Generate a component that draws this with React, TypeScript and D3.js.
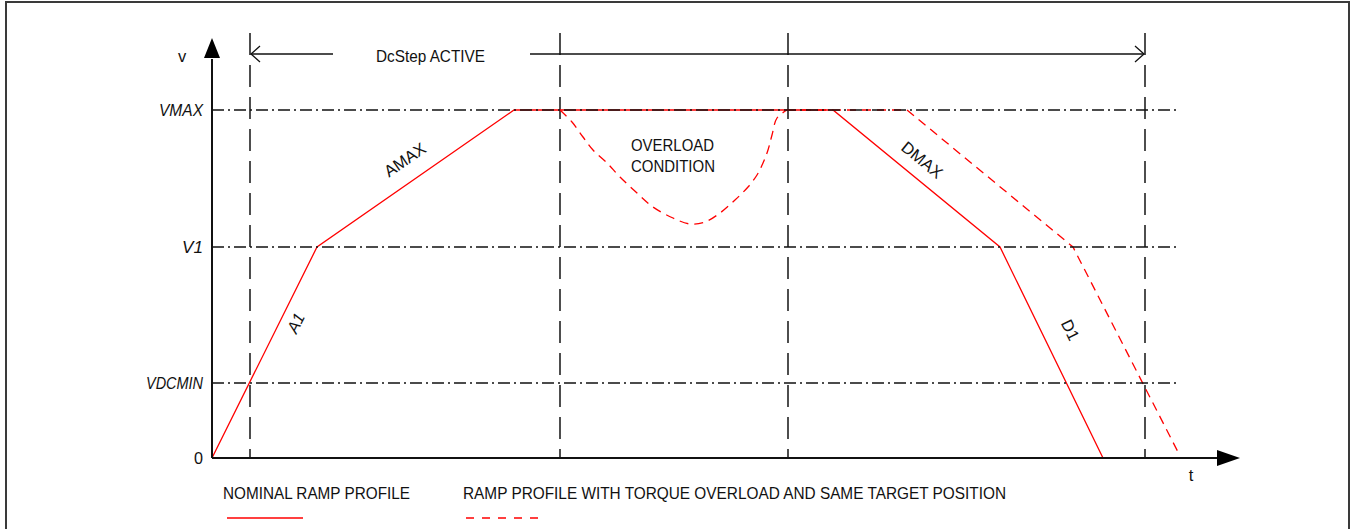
import React from 'react'
import * as d3 from 'd3'

// velocity levels (chart units)
const levelNames = ['VMAX', 'V1', 'VDCMIN', '0']
const levelValues = [87, 52.75, 18.75, 0]
const levelWidths = [44, 21, 57, 9]

// nominal ramp profile
const nominalT = [0, 10.5, 30.2, 62.1, 78.8, 89.1]
const nominalV = [0, 52.75, 87, 87, 52.75, 0]

// ramp with torque overload, same target position
const overloadT = [34.8, 36.0, 37.1, 38.1, 39.5, 40.8, 42.5, 44.1, 46.1, 47.8, 49.3, 50.8, 52.3, 53.6, 54.5, 55.1, 55.6, 56.0, 56.5, 57.5]
const overloadV = [87, 84, 80.25, 77, 73.75, 70.25, 66.25, 62.75, 60, 58.5, 59, 61.25, 64.5, 67.75, 70.75, 73.75, 77, 80.75, 85, 87]
const tailT = [57.5, 69.5, 86.1, 96.6]
const tailV = [87, 87, 52.75, 1.5]

// vertical marker times
const markerT = [3.8, 34.8, 57.6, 93.3]

// segment labels
const segLabels = ['A1', 'AMAX', 'DMAX', 'D1']
const segT = [8.4, 19.3, 71.0, 85.8]
const segV = [33.75, 74.5, 74.5, 32]
const segAngle = [-63.5, -34.8, 39.4, 64]

const W = 1351
const H = 529
const x = d3.scaleLinear().domain([0, 100]).range([212, 1212])
const y = d3.scaleLinear().domain([0, 100]).range([458, 58])
const font = '"Liberation Sans", Arial, sans-serif'
const fs = 16.5

export default function App() {
  const nomLine = d3.line<number>().x((t) => x(t)).y((_, i) => y(nominalV[i]))
  const ovLine = d3.line<number>().x((t) => x(t)).y((_, i) => y(overloadV[i])).curve(d3.curveCatmullRom)
  const tailLine = d3.line<number>().x((t) => x(t)).y((_, i) => y(tailV[i]))
  const gridEnd = x(96.8)
  const axTip = x(102.8)
  const ayTip = y(105)
  const arrowY = 54

  return (
    <svg width={W} height={H} style={{ position: 'absolute', left: 0, top: 0 }} fontFamily={font}>
      <rect x={0} y={0} width={W} height={H} fill="#fff" />
      <path d={`M6,${H + 5} V2 H1349 V${H + 5}`} fill="none" stroke="#3a3a3a" strokeWidth={2} />

      {/* vertical dashed markers */}
      {markerT.map((t, i) => (
        <line key={i} x1={x(t)} x2={x(t)} y1={33} y2={y(0)} stroke="#222" strokeWidth={1.6} strokeDasharray="22,10" />
      ))}

      {/* profiles */}
      <path d={nomLine(nominalT) || ''} fill="none" stroke="#ff0000" strokeWidth={1.3} />
      <path d={ovLine(overloadT) || ''} fill="none" stroke="#ff0000" strokeWidth={1.3} strokeDasharray="9,6" />
      <path d={tailLine(tailT) || ''} fill="none" stroke="#ff0000" strokeWidth={1.3} strokeDasharray="9,6" />

      {/* level dash-dot lines and labels */}
      {levelValues.map((v, i) => (
        <g key={i}>
          {v > 0 && (
            <line x1={x(0)} x2={gridEnd} y1={y(v)} y2={y(v)} stroke="#111" strokeWidth={1.4} strokeDasharray="12,4,2,4" />
          )}
          <text x={203} y={y(v) + 6} textAnchor="end" fontSize={fs} textLength={levelWidths[i]} lengthAdjust="spacingAndGlyphs" fontStyle={v > 0 ? 'italic' : 'normal'} fill="#111">
            {levelNames[i]}
          </text>
        </g>
      ))}

      {/* axes */}
      <line x1={x(0)} x2={x(0)} y1={y(0)} y2={y(100) + 1} stroke="#111" strokeWidth={2} />
      <path d={`M${x(0) - 8},${y(100)} L${x(0)},${ayTip} L${x(0) + 8},${y(100)} Z`} fill="#000" />
      <line x1={x(0)} x2={axTip - 22} y1={y(0)} y2={y(0)} stroke="#111" strokeWidth={2} />
      <path d={`M${axTip - 23},${y(0) - 8} L${axTip},${y(0)} L${axTip - 23},${y(0) + 8} Z`} fill="#000" />
      <text x={182} y={62} textAnchor="middle" fontSize={fs} fill="#111">v</text>
      <text x={1191} y={481} textAnchor="middle" fontSize={fs} fill="#111">t</text>

      {/* DcStep ACTIVE span */}
      <line x1={x(markerT[0]) + 1} x2={333} y1={arrowY} y2={arrowY} stroke="#111" strokeWidth={1.3} />
      <line x1={530} x2={x(markerT[3]) - 1} y1={arrowY} y2={arrowY} stroke="#111" strokeWidth={1.3} />
      <path d={`M${x(markerT[0]) + 10},${arrowY - 8} L${x(markerT[0]) + 1},${arrowY} L${x(markerT[0]) + 10},${arrowY + 8}`} fill="none" stroke="#111" strokeWidth={1.3} />
      <path d={`M${x(markerT[3]) - 10},${arrowY - 8} L${x(markerT[3]) - 1},${arrowY} L${x(markerT[3]) - 10},${arrowY + 8}`} fill="none" stroke="#111" strokeWidth={1.3} />
      <text x={376} y={62} fontSize={fs} textLength={109} lengthAdjust="spacingAndGlyphs" fill="#111">DcStep ACTIVE</text>

      {/* overload label */}
      <text x={631} y={151} fontSize={fs} textLength={83} lengthAdjust="spacingAndGlyphs" fill="#111">OVERLOAD</text>
      <text x={631} y={172} fontSize={fs} textLength={84} lengthAdjust="spacingAndGlyphs" fill="#111">CONDITION</text>

      {/* segment labels */}
      {segLabels.map((s, i) => (
        <text key={s} transform={`translate(${x(segT[i])},${y(segV[i])}) rotate(${segAngle[i]})`} textAnchor="middle" dy={5.5} fontSize={fs} fontStyle={i === 0 ? 'italic' : 'normal'} fill="#111">
          {s}
        </text>
      ))}

      {/* legend */}
      <text x={223} y={499} fontSize={fs} textLength={187} lengthAdjust="spacingAndGlyphs" fill="#111">NOMINAL RAMP PROFILE</text>
      <line x1={227} x2={303} y1={518} y2={518} stroke="#ff0000" strokeWidth={1.3} />
      <text x={463} y={499} fontSize={fs} textLength={543} lengthAdjust="spacingAndGlyphs" fill="#111">RAMP PROFILE WITH TORQUE OVERLOAD AND SAME TARGET POSITION</text>
      <line x1={466} x2={542} y1={518} y2={518} stroke="#ff0000" strokeWidth={1.3} strokeDasharray="8,8" />
    </svg>
  )
}
